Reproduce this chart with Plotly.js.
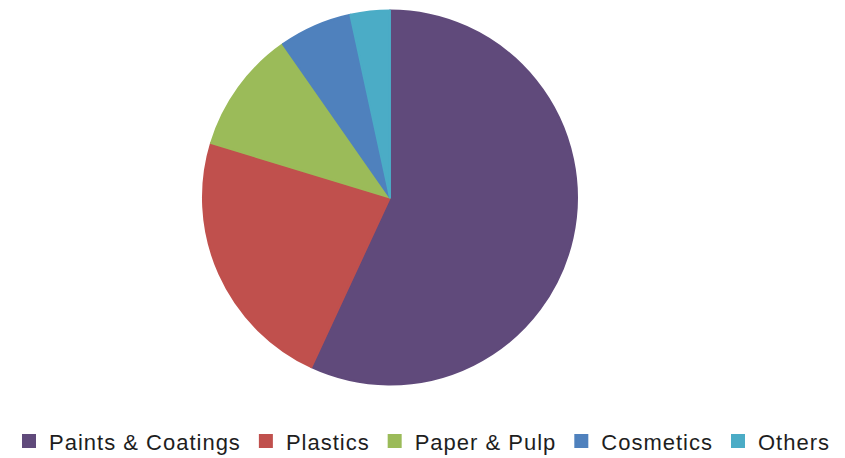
<!DOCTYPE html>
<html>
<head>
<meta charset="utf-8">
<script src="https://cdn.plot.ly/plotly-3.0.1.min.js"></script>
<style>
html,body{margin:0;padding:0;background:#fff;}
#chart{width:845px;height:458px;}
.legendtext{letter-spacing:1px;}
</style>
</head>
<body>
<div id="chart"></div>
<script>
var categories = ["Paints & Coatings", "Plastics", "Paper & Pulp", "Cosmetics", "Others"];
var shares = [56.9, 22.8, 10.6, 6.3, 3.4];
var colors = ["#604A7B", "#C0504D", "#9BBB59", "#4F81BD", "#4BACC6"];

var trace = {
  type: "pie",
  labels: categories,
  values: shares,
  sort: false,
  direction: "clockwise",
  rotation: 0,
  textinfo: "none",
  hoverinfo: "label+percent",
  marker: {colors: colors, line: {width: 2, color: colors}},
  domain: {x: [0.2402, 0.6828], y: [0.1594, 0.9782]}
};

var layout = {
  width: 845,
  height: 458,
  margin: {l: 0, r: 0, t: 0, b: 0, autoexpand: false},
  paper_bgcolor: "#ffffff",
  showlegend: true,
  legend: {
    orientation: "h",
    x: 0.5, xanchor: "center",
    y: -0.009, yanchor: "bottom",
    font: {family: "Liberation Sans, Arial, sans-serif", size: 22, color: "#1e1e1e"},
    itemwidth: 30,
    traceorder: "normal"
  }
};

Plotly.newPlot("chart", [trace], layout, {displayModeBar: false, staticPlot: true});
</script>
</body>
</html>
